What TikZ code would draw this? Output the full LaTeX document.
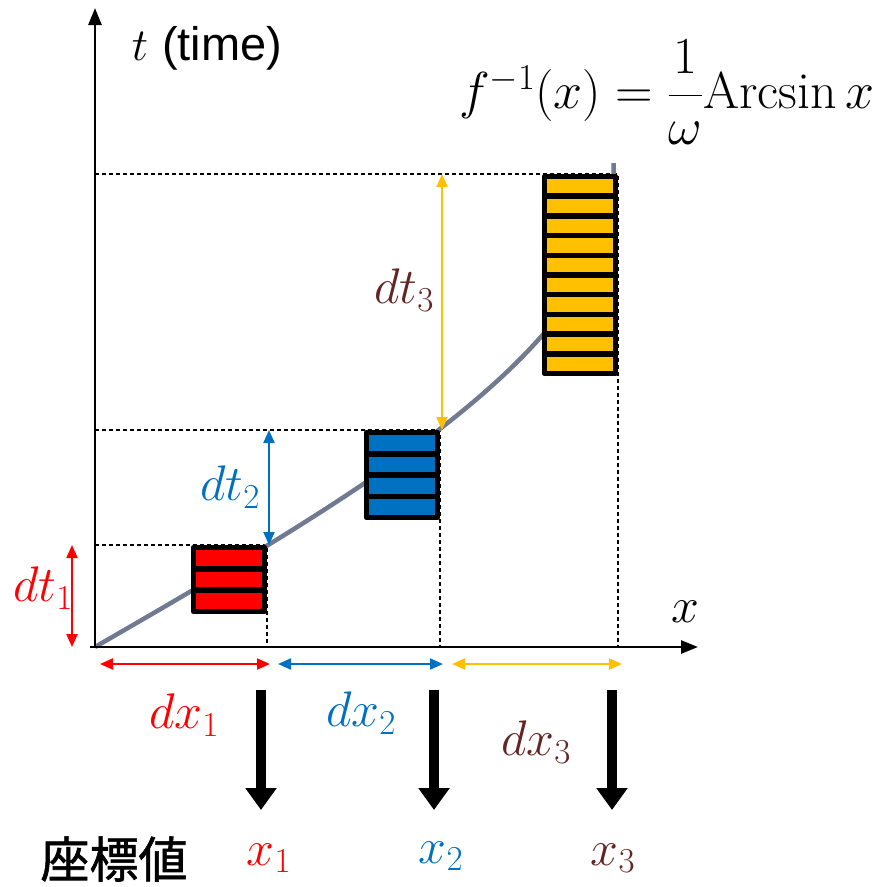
\RequirePackage{fix-cm}
\documentclass[tikz,border=0pt]{standalone}
\usepackage{amsmath}
\usepackage{fontspec}
\newfontfamily\arialfont{Liberation Sans}
\newfontfamily\cjkfont[FakeBold=1.2]{Noto Sans CJK JP}
\usetikzlibrary{arrows.meta,positioning,calc}
\definecolor{cred}{RGB}{255,0,0}
\definecolor{cblue}{RGB}{0,112,192}
\definecolor{cyellow}{RGB}{255,192,0}
\definecolor{cbrown}{RGB}{99,37,35}
\definecolor{cgray}{RGB}{112,122,145}

\begin{document}
\begin{tikzpicture}[x=1pt,y=-1pt,font=\fontsize{50}{56}\selectfont,
  axis/.style={line width=2.6pt,-{Triangle[length=17pt,width=13pt]}},
  guide/.style={line width=1.1pt,dash pattern=on 4pt off 3pt},
  dim/.style={line width=2pt,{Triangle[length=13pt,width=11pt]}-{Triangle[length=13pt,width=11pt]}},
  stripe/.style={draw=black,line width=5.5pt,line join=round},
  down/.style={line width=10pt,-{Triangle[length=22pt,width=30pt]}}]
\useasboundingbox (0,0) rectangle (881,887);
\coordinate (O) at (95,647);
\coordinate (F0) at (95,647);
% sample points on the curve, their feet on both axes
\foreach \i/\xv/\tv in {1/267/545,2/440/430,3/618/174}{
  \coordinate (P\i) at (\xv,\tv);
  \coordinate (F\i) at (\xv,647);
  \coordinate (Y\i) at (95,\tv);
  \draw[guide] (Y\i) -- (P\i) -- (F\i);
}
% t = arcsin(x)/omega
\draw[cgray,line width=4.5pt] plot[domain=0:1,samples=80] ({95+519*\x},{647-5.23599*asin(min(\x,1))}) -- ++(0,-22);
% the stacked time slices
\foreach \i/\n/\col in {1/3/cred,2/4/cblue,3/10/cyellow}{
  \pgfmathsetmacro\pitch{\i==3 ? 19.7 : 21.3}
  \foreach \k in {1,...,\n}{
    \draw[stripe,fill=\col] ([shift={(-73.5pt,{-2.5pt-(\k-1)*\pitch*1pt})}]P\i)
      rectangle ([shift={(-2.5pt,{-2.5pt-\k*\pitch*1pt})}]P\i);
  }
}
\draw[axis] (O) -- (95,8);
\draw[axis] (90,647) -- (698,647);
\node (tlab) at (207,48) {\fontsize{46}{50}\selectfont$t$ {\arialfont\fontsize{47}{50}\selectfont (time)}};
\node (xlab) at (685,612) {$x$};
\node (finv) at (667,92) {\fontsize{52}{56}\selectfont$f^{-1}(x)=\dfrac{1}{\omega}\mathrm{Arcsin}\,x$};
% dt and dx arrows
\draw[dim,cred] ([xshift=-23pt]Y1) -- ([xshift=-23pt]O);
\draw[dim,cblue] ([xshift=2pt]P1 |- P2) -- ([xshift=2pt]P1);
\draw[dim,cyellow] ([xshift=2pt]P2 |- P3) -- ([xshift=2pt]P2);
\draw[dim,cred] ([shift={(5pt,-17pt)}]F0) -- ([shift={(3pt,-17pt)}]F1);
\draw[dim,cblue] ([shift={(11pt,-17pt)}]F1) -- ([shift={(3pt,-17pt)}]F2);
\draw[dim,cyellow] ([shift={(12pt,-17pt)}]F2) -- ([shift={(4pt,-17pt)}]F3);
\node[text=cred] (dt1) at (43,588) {$dt_1$};
\node[text=cblue] (dt2) at (230,487) {$dt_2$};
\node[text=cbrown] (dt3) at (404,290) {$dt_3$};
\node[text=cred] (dx1) at (184,715) {$dx_1$};
\node[text=cblue] (dx2) at (361,713) {$dx_2$};
\node[text=cbrown] (dx3) at (536,742) {$dx_3$};
% read-off of the coordinate values
\node (coord) at (114,859) {\cjkfont\fontsize{49}{54}\selectfont 座標値};
\node[text=cred] (v1) at (269,858) {$x_1$};
\node[text=cblue] (v2) at (441,856) {$x_2$};
\node[text=cbrown] (v3) at (613,858) {$x_3$};
\foreach \i in {1,2,3}{
  \draw[down] ([shift={(-6pt,-43pt)}]F\i) -- ([shift={(-6pt,-163pt)}]F\i);
}
\end{tikzpicture}
\end{document}
